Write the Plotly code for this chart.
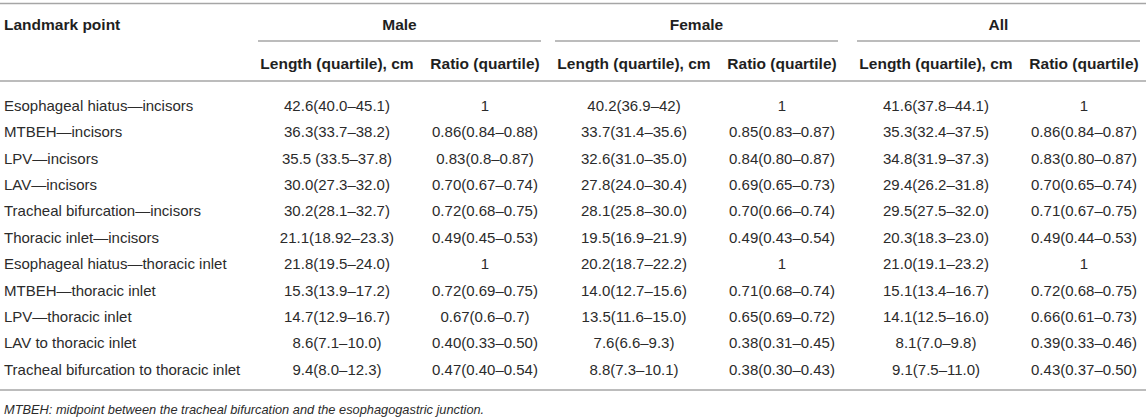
import plotly.graph_objects as go

# table content
landmarks = [
    "Esophageal hiatus\u2014incisors",
    "MTBEH\u2014incisors",
    "LPV\u2014incisors",
    "LAV\u2014incisors",
    "Tracheal bifurcation\u2014incisors",
    "Thoracic inlet\u2014incisors",
    "Esophageal hiatus\u2014thoracic inlet",
    "MTBEH\u2014thoracic inlet",
    "LPV\u2014thoracic inlet",
    "LAV to thoracic inlet",
    "Tracheal bifurcation to thoracic inlet",
]
male_length = ["42.6(40.0\u201345.1)", "36.3(33.7\u201338.2)", "35.5 (33.5\u201337.8)", "30.0(27.3\u201332.0)",
               "30.2(28.1\u201332.7)", "21.1(18.92\u201323.3)", "21.8(19.5\u201324.0)", "15.3(13.9\u201317.2)",
               "14.7(12.9\u201316.7)", "8.6(7.1\u201310.0)", "9.4(8.0\u201312.3)"]
male_ratio = ["1", "0.86(0.84\u20130.88)", "0.83(0.8\u20130.87)", "0.70(0.67\u20130.74)", "0.72(0.68\u20130.75)",
              "0.49(0.45\u20130.53)", "1", "0.72(0.69\u20130.75)", "0.67(0.6\u20130.7)", "0.40(0.33\u20130.50)",
              "0.47(0.40\u20130.54)"]
female_length = ["40.2(36.9\u201342)", "33.7(31.4\u201335.6)", "32.6(31.0\u201335.0)", "27.8(24.0\u201330.4)",
                 "28.1(25.8\u201330.0)", "19.5(16.9\u201321.9)", "20.2(18.7\u201322.2)", "14.0(12.7\u201315.6)",
                 "13.5(11.6\u201315.0)", "7.6(6.6\u20139.3)", "8.8(7.3\u201310.1)"]
female_ratio = ["1", "0.85(0.83\u20130.87)", "0.84(0.80\u20130.87)", "0.69(0.65\u20130.73)", "0.70(0.66\u20130.74)",
                "0.49(0.43\u20130.54)", "1", "0.71(0.68\u20130.74)", "0.65(0.69\u20130.72)", "0.38(0.31\u20130.45)",
                "0.38(0.30\u20130.43)"]
all_length = ["41.6(37.8\u201344.1)", "35.3(32.4\u201337.5)", "34.8(31.9\u201337.3)", "29.4(26.2\u201331.8)",
              "29.5(27.5\u201332.0)", "20.3(18.3\u201323.0)", "21.0(19.1\u201323.2)", "15.1(13.4\u201316.7)",
              "14.1(12.5\u201316.0)", "8.1(7.0\u20139.8)", "9.1(7.5\u201311.0)"]
all_ratio = ["1", "0.86(0.84\u20130.87)", "0.83(0.80\u20130.87)", "0.70(0.65\u20130.74)", "0.71(0.67\u20130.75)",
             "0.49(0.44\u20130.53)", "1", "0.72(0.68\u20130.75)", "0.66(0.61\u20130.73)", "0.39(0.33\u20130.46)",
             "0.43(0.37\u20130.50)"]

groups = ["Male", "Female", "All"]
sub_headers = ["Length (quartile), cm", "Ratio (quartile)"]
first_header = "Landmark point"
footnote = "MTBEH: midpoint between the tracheal bifurcation and the esophagogastric junction."

# layout geometry (pixels)
W, H = 1146, 419
label_x = 4
group_starts = [258, 555, 857]
group_width = 283
col_offsets = [79, 227]
row_top = 107
row_step = 26.4
y_group = 26
y_group_line = 41
y_sub = 65
y_head_rule = 81
y_bottom_rule = 390
y_foot = 411

FONT = "Liberation Sans, Arial, sans-serif"
TXT = "#2b2b2b"
HEAD = "#1f1f1f"
RULE = "#a6a6a6"

columns = [male_length, male_ratio, female_length, female_ratio, all_length, all_ratio]
rows_y = [row_top + i * row_step for i in range(len(landmarks))]

fig = go.Figure()

# left column labels
fig.add_trace(go.Scatter(x=[label_x] * len(landmarks), y=rows_y, text=landmarks, mode="text",
                         textposition="middle right", textfont=dict(family=FONT, size=15, color=TXT),
                         hoverinfo="skip"))

# data cells
cx, cy, ct = [], [], []
for k, col in enumerate(columns):
    x = group_starts[k // 2] + col_offsets[k % 2]
    cx += [x] * len(col)
    cy += rows_y
    ct += col
fig.add_trace(go.Scatter(x=cx, y=cy, text=ct, mode="text", textposition="middle center",
                         textfont=dict(family=FONT, size=15, color=TXT), hoverinfo="skip"))

# header text
fig.add_trace(go.Scatter(x=[label_x], y=[y_group], text=["<b>" + first_header + "</b>"], mode="text",
                         textposition="middle right", textfont=dict(family=FONT, size=15.5, color=HEAD),
                         hoverinfo="skip"))
gx, gy, gt = [], [], []
for g, name in enumerate(groups):
    gx.append(group_starts[g] + group_width / 2)
    gy.append(y_group)
    gt.append("<b>" + name + "</b>")
    for j, s in enumerate(sub_headers):
        gx.append(group_starts[g] + col_offsets[j])
        gy.append(y_sub)
        gt.append("<b>" + s + "</b>")
fig.add_trace(go.Scatter(x=gx, y=gy, text=gt, mode="text", textposition="middle center",
                         textfont=dict(family=FONT, size=15.5, color=HEAD), hoverinfo="skip"))

# footnote
fig.add_trace(go.Scatter(x=[label_x], y=[y_foot], text=["<i>" + footnote + "</i>"], mode="text",
                         textposition="middle right", textfont=dict(family=FONT, size=12.8, color=TXT),
                         hoverinfo="skip"))

# rules
for y in [3.5, y_head_rule, y_bottom_rule]:
    fig.add_shape(type="line", x0=0, x1=W, y0=y, y1=y, xref="x", yref="y", line=dict(color=RULE, width=1.6))
for g in range(len(groups)):
    fig.add_shape(type="line", x0=group_starts[g], x1=group_starts[g] + group_width, y0=y_group_line,
                  y1=y_group_line, xref="x", yref="y", line=dict(color=RULE, width=1.6))

fig.update_layout(width=W, height=H, autosize=False, margin=dict(l=0, r=0, t=0, b=0),
                  paper_bgcolor="white", plot_bgcolor="white", showlegend=False)
fig.update_xaxes(range=[0, W], visible=False, fixedrange=True)
fig.update_yaxes(range=[H, 0], visible=False, fixedrange=True)

fig.write_html("out.html", config={"displayModeBar": False},
               post_script="document.body.style.margin='0';")
